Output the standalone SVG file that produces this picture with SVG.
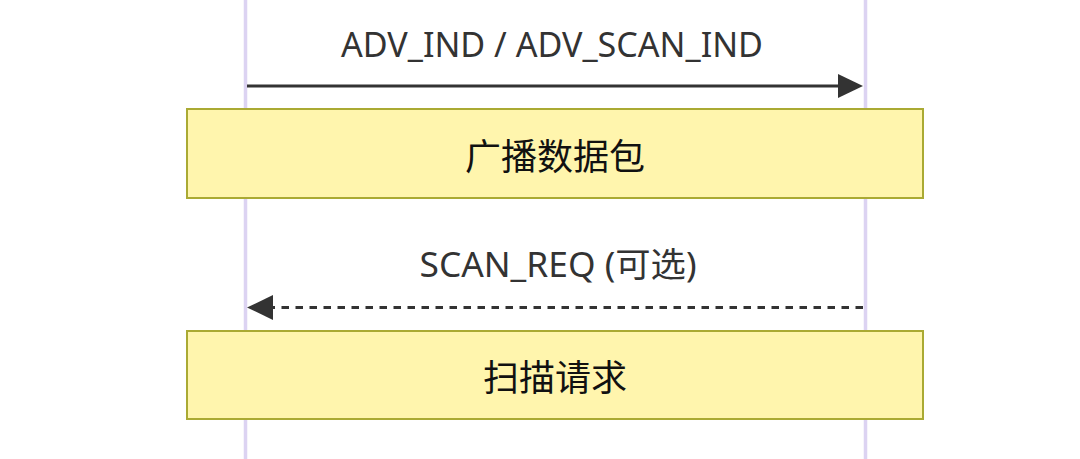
<svg xmlns="http://www.w3.org/2000/svg" width="1080" height="459" viewBox="0 0 1080 459">
<style>
.lifeline{stroke:#DCD3F2;stroke-width:3.5;fill:none}
.note rect{fill:#FFF5AD;stroke:#AAAA33;stroke-width:2}
.note text{font-family:"Noto Sans CJK SC","Noto Sans",sans-serif;font-size:36px;fill:#111;text-anchor:middle;dominant-baseline:central}
.msg{stroke:#333;stroke-width:3;fill:none}
.dashed{stroke-dasharray:7.5,6.5}
.label{font-family:"Noto Sans","Noto Sans CJK SC",sans-serif;font-size:34px;fill:#333;text-anchor:middle}
.head{fill:#333}
</style>
<rect width="1080" height="459" fill="#FFFFFF"/>
<g id="lifelines">
<line class="lifeline" x1="245.5" y1="0" x2="245.5" y2="459"/>
<line class="lifeline" x1="865.5" y1="0" x2="865.5" y2="459"/>
</g>
<g id="connectors">
<line class="msg" x1="247" y1="86" x2="840" y2="86"/>
<polygon class="head" points="838,74 863,86 838,98"/>
<text class="label" x="552" y="57" textLength="422" lengthAdjust="spacingAndGlyphs">ADV_IND / ADV_SCAN_IND</text>
<line class="msg dashed" x1="863" y1="307.5" x2="272" y2="307.5"/>
<polygon class="head" points="273,295 247,307.5 273,320"/>
<text class="label" x="558" y="277" textLength="277" lengthAdjust="spacingAndGlyphs">SCAN_REQ (可选)</text>
</g>
<g id="note1" class="note">
<rect x="187" y="109" width="736" height="89"/>
<text x="555" y="153.5">广播数据包</text>
</g>
<g id="note2" class="note">
<rect x="187" y="331" width="736" height="88"/>
<text x="555" y="375">扫描请求</text>
</g>
</svg>
